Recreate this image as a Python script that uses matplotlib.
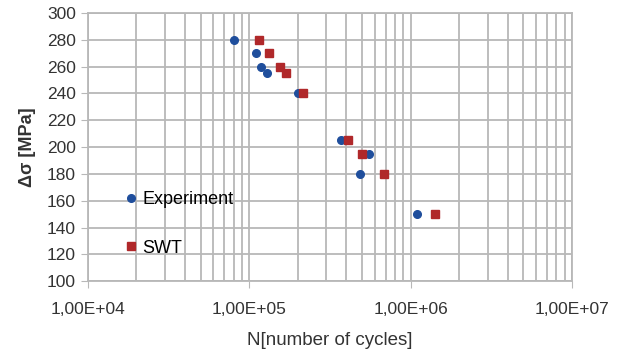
import numpy as np
import matplotlib.pyplot as plt
from matplotlib.ticker import FixedLocator, LogLocator, FuncFormatter

plt.rcParams['font.family'] = ['Liberation Sans', 'DejaVu Sans']

# Experiment data
exp_N = [8.1e4, 1.10e5, 1.19e5, 1.28e5, 2.0e5, 3.72e5, 5.5e5, 4.85e5, 1.09e6]
exp_S = [280, 270, 260, 255, 240, 205, 195, 180, 150]

# SWT prediction
swt_N = [1.145e5, 1.33e5, 1.55e5, 1.68e5, 2.15e5, 4.11e5, 4.98e5, 6.87e5, 1.41e6]
swt_S = [280, 270, 260, 255, 240, 205, 195, 180, 150]

y_ticks = list(range(100, 301, 20))
x_ticks = [1e4, 1e5, 1e6, 1e7]

fig = plt.figure(figsize=(6.32, 3.6), dpi=100)
ax = fig.add_axes([0.139, 0.219, 0.766, 0.745])

ax.plot(exp_N, exp_S, 'o', color='#1f4e9c', markersize=5.5, label='Experiment', zorder=3)
ax.plot(swt_N, swt_S, 's', color='#b0282a', markersize=5.5, label='SWT', zorder=3)

ax.set_xscale('log')
ax.set_xlim(1e4, 1e7)
ax.set_ylim(100, 300)
ax.set_yticks(y_ticks)
ax.xaxis.set_major_locator(FixedLocator(x_ticks))
ax.xaxis.set_minor_locator(LogLocator(base=10, subs=np.arange(2, 10)))
ax.xaxis.set_major_formatter(FuncFormatter(lambda v, p: ('%.2E' % v).replace('.', ',')))
ax.xaxis.set_minor_formatter(FuncFormatter(lambda v, p: ''))

ax.grid(True, which='both', axis='x', color='#b8b8b8', linewidth=1.3)
ax.grid(True, which='major', axis='y', color='#b8b8b8', linewidth=1.3)
for s in ax.spines.values():
    s.set_color('#b8b8b8')
    s.set_linewidth(1.3)
ax.tick_params(axis='both', which='major', length=5, color='#b8b8b8', labelsize=12.5, labelcolor='#333333')
ax.tick_params(axis='x', which='minor', length=0)
ax.tick_params(axis='x', which='major', pad=10)

ax.set_ylabel('Δσ [MPa]', fontsize=13, fontweight='bold', color='#333333', labelpad=8)
ax.set_xlabel('N[number of cycles]', fontsize=13.5, color='#333333', labelpad=11)

ax.legend(loc='lower left', bbox_to_anchor=(0.06, 0.058), frameon=False, fontsize=13,
          handlelength=0.6, handletextpad=0.3, labelspacing=1.75, borderpad=0)

fig.savefig('out.png', dpi=100)
